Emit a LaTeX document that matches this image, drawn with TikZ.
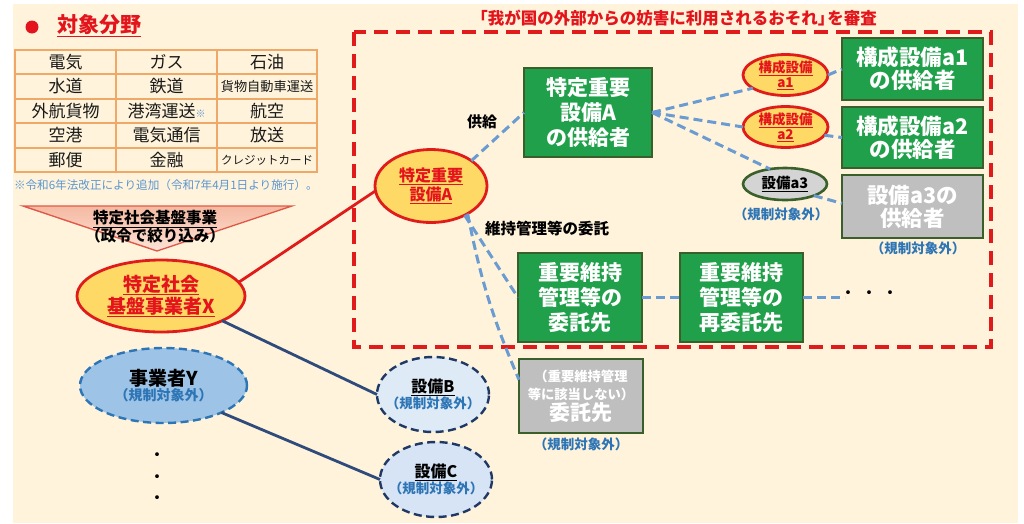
\documentclass[tikz,border=0pt]{standalone}
\usepackage{fontspec}
\setmainfont{Noto Sans CJK JP}
\usetikzlibrary{shapes.geometric,calc}
\definecolor{cream}{HTML}{FFF4DB}
\definecolor{tblline}{HTML}{F0A868}
\definecolor{redtx}{HTML}{E3141C}
\definecolor{reddash}{HTML}{E01B1B}
\definecolor{gold}{HTML}{FFD966}
\definecolor{grn}{HTML}{20A04A}
\definecolor{dkgrn}{HTML}{3A5F2A}
\definecolor{gry}{HTML}{BFBFBF}
\definecolor{lgry}{HTML}{D4D4D4}
\definecolor{bluedash}{HTML}{6A9BD1}
\definecolor{navy}{HTML}{2F4B7C}
\definecolor{bluetx}{HTML}{2E75B6}
\definecolor{noteblue}{HTML}{5B95D0}
\definecolor{yfill}{HTML}{9DC3E6}
\definecolor{bfill}{HTML}{DEEBF7}
\definecolor{cfill}{HTML}{D6E4F5}
\definecolor{bline}{HTML}{203864}
\definecolor{triedge}{HTML}{E05A4A}
\definecolor{tritop}{HTML}{F5B9A2}
\definecolor{tribot}{HTML}{FCE3D6}
\newcommand{\fs}[2]{\fontsize{#1}{#2}\selectfont}
\begin{document}
\begin{tikzpicture}[x=1pt,y=-1pt,
  every node/.style={inner sep=0pt, outer sep=0pt},
  greenbox/.style={rectangle, draw=dkgrn, line width=2.6pt, fill=grn, text=white, font=\fs{21}{25}\bfseries, align=center},
  graybox/.style={greenbox, fill=gry},
  redell/.style={ellipse, draw=reddash, line width=2.8pt, fill=gold, text=redtx, font=\bfseries, align=center},
  bluecon/.style={draw=bluedash, line width=3pt, dash pattern=on 9pt off 5pt},
  navycon/.style={draw=navy, line width=2.8pt},
  redcon/.style={draw=reddash, line width=2.8pt},
  outlbl/.style={text=bluetx, font=\fs{13.5}{15}\bfseries},
  cell/.style={font=\fs{17}{19}, text=black!90},
  dashell/.style={ellipse, line width=2.4pt, dash pattern=on 8pt off 4.5pt, align=center, font=\bfseries}
]
\path[use as bounding box, fill=white] (0,0) rectangle (1024,523);
\fill[cream] (13,4) rectangle (1018,523);

% ---- title
\fill[redtx] (32,27) circle (6.5pt);
\node[anchor=west, text=redtx, font=\fs{21}{24}\bfseries] (ttl) at (57,26) {\underline{対象分野}};

% ---- table
\draw[tblline, line width=1.1pt] (15,50) rectangle (317,172);
\foreach \yy in {74,99,123,148} \draw[tblline, line width=1.1pt] (15,\yy) -- (317,\yy);
\foreach \xx in {116,217} \draw[tblline, line width=1.1pt] (\xx,50) -- (\xx,172);
\node[cell] (c11) at (65.5,62) {電気};
\node[cell] (c12) at (166.5,62) {ガス};
\node[cell] (c13) at (267,62) {石油};
\node[cell] (c21) at (65.5,86.5) {水道};
\node[cell] (c22) at (166.5,86.5) {鉄道};
\node[cell, font=\fs{13.2}{15}] (c23) at (267,86.5) {貨物自動車運送};
\node[cell] (c31) at (65.5,111) {外航貨物};
\node[cell] (c32) at (166.5,111) {港湾運送{\fs{10}{12}\color{noteblue}※}};
\node[cell] (c33) at (267,111) {航空};
\node[cell] (c41) at (65.5,135.5) {空港};
\node[cell] (c42) at (166.5,135.5) {電気通信};
\node[cell] (c43) at (267,135.5) {放送};
\node[cell] (c51) at (65.5,160) {郵便};
\node[cell] (c52) at (166.5,160) {金融};
\node[cell, font=\fs{11.5}{13}] (c53) at (267,160) {クレジットカード};
\node[anchor=west, text=noteblue, font=\fs{11.6}{13}] (note) at (14,185) {※令和6年法改正により追加（令和7年4月1日より施行）。};

% ---- triangle
\draw[triedge, line width=1.4pt, top color=tritop, bottom color=tribot] (23,206) -- (292,206) -- (157,251) -- cycle;
\node[align=center, font=\fs{15.5}{16.5}\bfseries] (tri) at (155,227) {\underline{特定社会基盤事業}\\（政令で絞り込み）};

% ---- red dashed frame + title
\draw[reddash, line width=3.3pt, dash pattern=on 14pt off 8pt] (354,32) rectangle (991,347);
\node[text=redtx, font=\fs{16.5}{18}\bfseries] (frtitle) at (677,18) {\hspace{-6pt}「我が国の外部からの妨害に利用されるおそれ」\hspace{-7pt}を審査};

% ---- ellipses
\node[redell, minimum width=168pt, minimum height=72pt, font=\fs{19}{22}\bfseries] (X) at (161,296) {\underline{特定社会}\\\underline{基盤事業者X}};
\node[redell, minimum width=112pt, minimum height=73pt, font=\fs{16}{19}\bfseries] (A) at (431,186) {\underline{特定重要}\\\underline{設備A}};
\node[redell, minimum width=85pt, minimum height=40pt, font=\fs{13.5}{15}\bfseries] (a1) at (785.5,75) {\makebox[0pt]{\underline{構成設備}}\\\makebox[0pt]{\underline{a1}}};
\node[redell, minimum width=85pt, minimum height=40pt, font=\fs{13.5}{15}\bfseries] (a2) at (785.5,127) {\makebox[0pt]{\underline{構成設備}}\\\makebox[0pt]{\underline{a2}}};
\node[ellipse, draw=dkgrn, line width=2.6pt, fill=lgry, minimum width=84pt, minimum height=32pt, font=\fs{14.5}{16}\bfseries] (a3) at (785,184) {\makebox[0pt]{\underline{設備a3}}};
\node[outlbl] (a3out) at (781,214) {（規制対象外）};

\node[dashell, draw=bluetx, fill=yfill, minimum width=167pt, minimum height=75pt] (Y) at (163.5,385.5) {{\fs{19}{20}事業者Y}\\{\fs{14}{17}\color{bluetx}（規制対象外）}};
\node[dashell, draw=bline, fill=bfill, minimum width=112pt, minimum height=75pt] (B) at (433,394.5) {\makebox[0pt]{\fs{16}{18}\underline{設備B}}\\\makebox[0pt]{\fs{13.5}{16}\color{bluetx}（規制対象外）}};
\node[dashell, draw=bline, fill=cfill, minimum width=112pt, minimum height=75pt] (C) at (436,479.5) {\makebox[0pt]{\fs{16}{18}\underline{設備C}}\\\makebox[0pt]{\fs{13.5}{16}\color{bluetx}（規制対象外）}};

% ---- boxes
\node[greenbox, minimum width=128pt, minimum height=89pt] (supA) at (588,112.5) {特定重要\\設備A\\の供給者};
\node[greenbox, minimum width=141pt, minimum height=62pt, font=\fs{21.5}{23}\bfseries] (a1box) at (912.5,69) {構成設備a1\\の供給者};
\node[greenbox, minimum width=141pt, minimum height=61pt, font=\fs{21.5}{23}\bfseries] (a2box) at (912.5,137.5) {構成設備a2\\の供給者};
\node[graybox, minimum width=141pt, minimum height=63pt, font=\fs{21.5}{23}\bfseries] (a3box) at (912.5,206.5) {設備a3の\\供給者};
\node[outlbl] (a3boxout) at (918,248) {（規制対象外）};
\node[greenbox, minimum width=124pt, minimum height=89pt] (wtk) at (580,297.5) {重要維持\\管理等の\\委託先};
\node[greenbox, minimum width=123pt, minimum height=89pt] (rewtk) at (741.5,297.5) {重要維持\\管理等の\\再委託先};
\node[graybox, minimum width=124pt, minimum height=74pt, font=\fs{13.3}{18}\bfseries] (gbox) at (581,396) {（重要維持管理\\等に該当しない）\\[1pt]{\fs{21}{22}委託先}};
\node[outlbl] (gboxout) at (581,444) {（規制対象外）};

% ---- labels
\node[font=\fs{15}{17}\bfseries] (lblsup) at (482,122) {供給};
\node[anchor=west, font=\fs{15.5}{17}\bfseries] (lblmnt) at (485,229) {維持管理等の委託};

% ---- connectors
\draw[redcon] (X.10) -- (A.185);
\draw[navycon] (X.-22) -- (B.west);
\draw[navycon] (Y.-25) -- (C.west);
\draw[bluecon] (A.32) -- (supA.west);
\draw[bluecon] (supA.east) -- (a1.202);
\draw[bluecon] (supA.east) -- (a2.west);
\draw[bluecon] (supA.east) -- (a3.135);
\draw[bluecon] (a1.east) -- (a1box.west);
\draw[bluecon] (a2.-12) -- (a2box.west);
\draw[bluecon] (a3.-22) -- ($(a3box.north west)!0.45!(a3box.south west)$);
\draw[bluecon] (A.-41) -- (wtk.west);
\draw[bluecon] (A.-37) to[bend right=6] ($(gbox.north west)!0.28!(gbox.south west)$);
\draw[bluecon] (wtk.east) -- (rewtk.west);
\coordinate (dend) at (845,297.5);
\draw[bluecon] (rewtk.east) -- (dend);
\node[font=\fs{18}{20}] (hdots) at (869,295) {・\hspace{3pt}・\hspace{3pt}・};
\node[font=\fs{18}{21.5}, align=center] (vdots) at (157,479) {・\\・\\・};
\end{tikzpicture}
\end{document}
